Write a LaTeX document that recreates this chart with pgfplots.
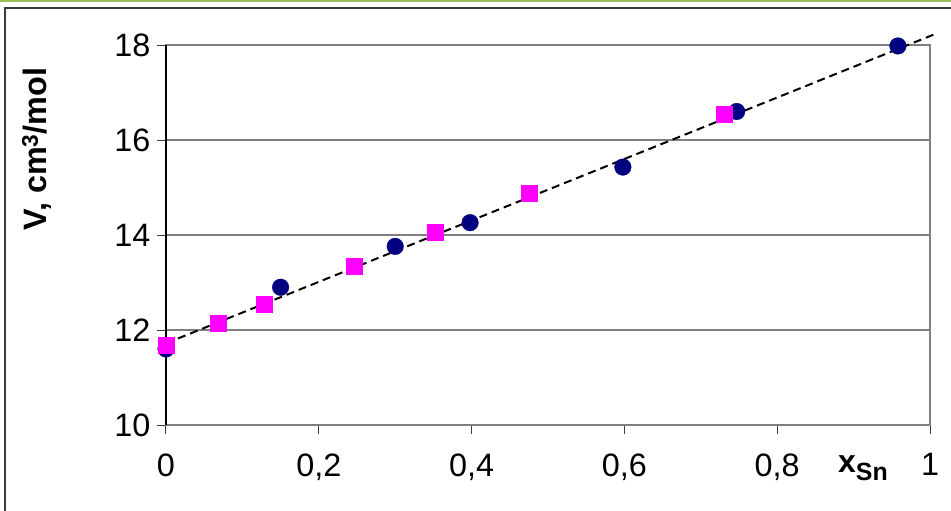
\documentclass[border=0pt]{standalone}
\usepackage{fontspec}
\setmainfont{Liberation Sans}
\usepackage{pgfplots}
\pgfplotsset{compat=1.18}
\definecolor{navyc}{RGB}{0,0,128}
\definecolor{magc}{RGB}{255,0,255}
\definecolor{gridc}{RGB}{128,128,128}
\definecolor{framec}{RGB}{60,60,60}
\definecolor{greenc}{RGB}{155,190,90}
\begin{document}
\begin{tikzpicture}
\path[use as bounding box] (-166bp,-86bp) rectangle (785bp,425bp);
\begin{axis}[
  at={(0,0)}, anchor=south west,
  scale only axis, width=764bp, height=380bp,
  xmin=0, xmax=1, ymin=10, ymax=18,
  clip=false,
  xtick={0,0.2,0.4,0.6,0.8,1},
  xticklabels={0,{0,2},{0,4},{0,6},{0,8},1},
  ytick={10,12,14,16,18},
  yticklabels={10,12,14,16,18},
  xtick pos=left, ytick pos=left,
  tick align=outside,
  major tick length=9bp,
  tick style={color=framec, line width=1bp},
  ymajorgrids,
  grid style={color=gridc, line width=1.2bp},
  axis line style={color=gridc, line width=1.8bp},
  ticklabel style={font=\fontsize{32.5}{38}\selectfont},
  yticklabel style={xshift=-3bp},
  xticklabel style={yshift=-16bp},
]
\addplot[only marks, mark=*, mark size=8.3bp, color=navyc, mark options={fill=navyc, draw=navyc}]
  coordinates {(0,11.6) (0.15,12.9) (0.30,13.76) (0.398,14.26) (0.598,15.43) (0.747,16.6) (0.958,17.98)};
\addplot[only marks, mark=square*, mark size=8bp, color=magc, mark options={fill=magc, draw=magc}]
  coordinates {(0,11.67) (0.068,12.15) (0.128,12.55) (0.246,13.34) (0.352,14.05) (0.475,14.88) (0.730,16.55)};
\addplot[black, line width=2bp, dash pattern=on 8bp off 5bp]
  coordinates {(0,11.72) (1.005,18.22)};
\draw[black, line width=1.5bp] (rel axis cs:0,0) -- (rel axis cs:0,1);
\end{axis}
\node[anchor=base west, font=\fontsize{32}{36}\selectfont\bfseries, inner sep=0pt] at (672bp,-47bp) {x\textsubscript{\fontsize{25}{28}\selectfont Sn}};
\node[rotate=90, anchor=center, font=\fontsize{32.5}{38}\selectfont\bfseries] at (-129bp,276bp) {V, cm\textsuperscript{3}/mol};
\draw[framec, line width=1.5bp] (-161bp,-90bp) -- (-161bp,417bp) -- (790bp,417bp);
\draw[greenc, line width=2bp] (-166bp,423.5bp) -- (785bp,423.5bp);
\end{tikzpicture}
\end{document}
